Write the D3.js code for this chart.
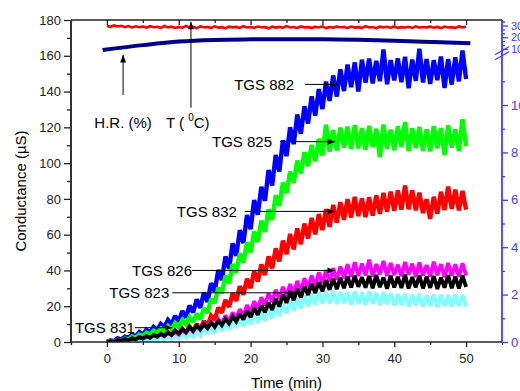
<!DOCTYPE html>
<html>
<head>
<meta charset="utf-8">
<script src="https://cdn.jsdelivr.net/npm/d3@7"></script>
<style>
body { margin: 0; background: #fff; }
svg { display: block; font-family: "Liberation Sans", Arial, sans-serif; }
</style>
</head>
<body>
<div id="main"></div>
<script>
// sampling grid of the recorded traces, minutes
const times = d3.range(0, 50.01, 0.5);

// conductance traces (uS), one reading every half minute
const tgs882 = [0, 0.9, 0.4, 2.1, 1.4, 3.0, 2.3, 4.2, 3.1, 5.6, 4.0, 6.9, 5.2, 8.4, 6.5, 10.1, 8.2, 12.3, 9.8, 14.6,
  11.4, 17.3, 13.6, 20.4, 16.5, 23.8, 19.1, 27.5, 22.4, 32.9, 28.1, 40.2, 34.6, 47.8, 41.0, 55.1, 48.2, 62.5, 55.3, 71.0,
  63.1, 79.4, 71.2, 86.8, 78.9, 96.2, 87.5, 104.6, 95.3, 112.8, 103.9, 120.1, 110.6, 127.2, 116.4, 131.8, 122.1, 137.3, 126.5, 141.4,
  130.2, 145.6, 134.8, 149.0, 137.2, 152.4, 140.3, 155.1, 142.5, 156.3, 140.0, 157.8, 145.0, 158.4, 144.6, 157.2, 145.8, 163.5, 144.1, 157.6,
  146.3, 158.5, 145.2, 159.4, 141.8, 157.9, 146.0, 164.0, 145.1, 158.2, 144.3, 157.5, 146.4, 159.6, 142.0, 158.1, 143.9, 159.2, 145.7, 163.0,
  147.0];
const tgs825 = [0, 0.6, 0.2, 1.1, 0.7, 1.9, 1.4, 3.0, 2.2, 4.1, 3.2, 5.2, 4.0, 6.4, 5.0, 7.5, 5.8, 9.0, 7.0, 10.6,
  8.4, 12.3, 9.8, 14.0, 11.2, 15.9, 12.6, 18.8, 16.3, 24.0, 21.8, 30.4, 27.3, 37.1, 32.6, 43.5, 38.8, 49.6, 44.2, 55.7,
  50.1, 61.9, 56.0, 67.8, 61.5, 74.2, 68.3, 82.0, 76.1, 89.1, 83.2, 95.3, 89.0, 101.4, 94.2, 106.1, 98.3, 110.2, 101.0, 113.6,
  104.2, 121.5, 106.4, 118.5, 107.1, 119.9, 108.6, 120.4, 107.9, 121.3, 108.2, 119.5, 107.4, 120.8, 108.9, 119.2, 103.5, 121.6, 108.0, 118.7,
  107.3, 120.5, 109.1, 123.0, 106.9, 119.4, 108.4, 120.2, 107.0, 118.9, 106.5, 120.7, 108.3, 119.6, 104.6, 121.2, 108.7, 119.0, 106.8, 124.5,
  109.5];
const tgs832 = [0, 0.5, 0.1, 0.9, 0.4, 1.3, 0.7, 1.8, 1.1, 2.4, 1.5, 3.0, 1.9, 3.6, 2.3, 4.3, 2.8, 5.2, 3.4, 6.3,
  4.1, 7.4, 4.9, 8.6, 5.8, 9.9, 6.9, 11.8, 8.9, 14.6, 12.3, 19.2, 16.4, 23.5, 19.6, 27.1, 23.0, 31.2, 26.4, 35.3,
  30.1, 39.6, 33.8, 43.4, 37.5, 47.8, 41.2, 52.3, 45.0, 56.7, 49.1, 60.4, 51.8, 63.5, 54.7, 66.2, 57.9, 69.4, 60.2, 71.5,
  62.6, 74.3, 64.4, 76.6, 66.8, 78.2, 68.3, 79.8, 69.6, 81.1, 70.4, 80.3, 69.8, 80.9, 70.7, 82.0, 71.6, 83.4, 72.9, 84.1,
  73.5, 84.8, 73.9, 87.5, 74.2, 84.7, 73.6, 83.5, 72.1, 79.8, 68.9, 81.2, 71.7, 84.0, 73.8, 86.9, 74.4, 85.2, 73.6, 84.4,
  74.0];
const tgs826 = [0, 0.4, 0.3, 1.0, 0.6, 1.5, 1.0, 2.0, 1.5, 2.6, 2.0, 3.2, 2.4, 3.8, 2.9, 4.4, 3.3, 5.0, 3.8, 5.7,
  4.2, 6.8, 5.1, 7.9, 5.9, 9.0, 6.8, 10.1, 7.7, 11.3, 8.6, 12.9, 10.2, 14.8, 11.6, 16.5, 12.9, 18.4, 14.8, 20.6,
  16.7, 22.8, 18.6, 25.0, 20.4, 27.1, 22.3, 29.2, 24.1, 30.8, 25.6, 32.4, 27.0, 34.1, 28.4, 35.7, 29.9, 37.2, 31.2, 38.9,
  32.6, 40.1, 33.7, 41.3, 34.8, 42.2, 35.6, 43.5, 36.4, 44.6, 36.9, 43.9, 37.2, 46.0, 36.5, 43.6, 37.8, 45.3, 36.9, 44.1,
  37.4, 43.2, 36.8, 44.7, 37.6, 43.8, 36.3, 44.4, 37.1, 43.0, 36.6, 44.9, 37.3, 43.5, 36.2, 44.2, 37.0, 43.4, 36.5, 44.0,
  37.2];
const tgs823 = [0, 0.5, 0.2, 1.1, 0.6, 1.6, 1.0, 2.1, 1.5, 2.7, 1.9, 3.2, 2.3, 3.9, 2.9, 4.6, 3.4, 5.4, 4.0, 6.3,
  4.7, 7.2, 5.5, 8.3, 6.3, 9.1, 7.1, 9.9, 7.8, 10.7, 8.5, 11.8, 9.4, 12.9, 10.3, 14.2, 11.4, 15.7, 12.6, 17.3,
  13.8, 18.9, 15.2, 20.5, 16.6, 22.1, 18.0, 24.2, 19.8, 26.4, 21.9, 28.0, 23.4, 29.6, 24.9, 31.0, 26.3, 32.5, 27.4, 33.4,
  28.3, 34.5, 29.2, 35.3, 29.6, 35.9, 30.1, 36.6, 30.5, 37.0, 30.9, 36.2, 30.4, 36.8, 30.1, 37.4, 30.7, 36.1, 29.8, 37.0,
  30.5, 36.4, 30.2, 37.6, 29.9, 36.3, 30.6, 37.2, 30.0, 36.5, 30.3, 36.9, 29.7, 36.0, 30.4, 37.3, 30.1, 36.6, 29.9, 37.1,
  30.8];
const tgs831 = [0, 0.3, 0.1, 0.6, 0.2, 0.8, 0.3, 1.0, 0.4, 1.3, 0.5, 1.7, 0.7, 2.1, 0.9, 2.6, 1.2, 3.2, 1.6, 3.9,
  2.0, 4.6, 2.4, 5.3, 2.9, 6.4, 3.7, 7.6, 4.5, 8.7, 5.3, 9.8, 6.1, 10.9, 7.0, 12.0, 7.9, 13.1, 8.8, 14.2,
  9.7, 15.3, 10.6, 16.7, 11.9, 18.4, 13.2, 20.1, 14.6, 21.8, 16.0, 23.4, 17.4, 25.0, 18.8, 26.2, 19.9, 27.3, 20.8, 28.0,
  21.4, 28.4, 21.7, 28.6, 21.2, 28.1, 21.5, 27.8, 20.9, 28.3, 21.3, 27.6, 20.8, 28.2, 21.4, 27.5, 20.6, 27.9, 21.1, 27.2,
  20.4, 26.8, 20.7, 27.0, 19.9, 26.5, 20.3, 26.9, 19.8, 26.2, 20.1, 26.7, 19.6, 26.4, 20.0, 26.1, 19.7, 26.6, 20.2, 26.3,
  19.9];

// temperature trace (right axis, upper segment)
const tempValues = [29.6, 28.9, 30.1, 29.2, 29.8, 28.7, 29.5, 28.4, 29.3, 28.6, 29.1, 28.2, 29.4, 28.5, 28.9, 28.0, 29.6, 28.3, 29.0, 27.9,
  28.8, 28.1, 29.7, 28.4, 28.9, 27.8, 29.2, 28.5, 28.7, 28.0, 29.3, 28.2, 28.6, 27.7, 29.0, 28.4, 28.8, 27.9, 29.4, 28.3,
  28.7, 28.0, 29.1, 28.5, 28.6, 27.6, 29.0, 28.2, 28.8, 28.1, 29.5, 28.3, 28.7, 27.9, 29.2, 28.4, 28.6, 28.0, 28.9, 28.3,
  29.3, 27.8, 28.7, 28.2, 29.0, 28.5, 28.8, 27.9, 29.1, 28.2, 28.6, 28.0, 29.4, 28.3, 28.7, 27.8, 29.0, 28.4, 28.9, 28.1,
  29.2, 28.0, 28.6, 28.3, 28.9, 27.9, 29.3, 28.2, 28.7, 28.4, 29.0, 28.1, 28.8, 27.8, 29.1, 28.3, 28.6, 28.0, 29.2, 28.4,
  28.9];
// relative humidity (right axis, upper segment)
const hrTimes = [-0.6, 5, 10, 15, 20, 25, 30, 35, 40, 45, 50.6];
const hrValues = [9.2, 13.3, 16.3, 17.7, 18.2, 18.4, 18.3, 17.8, 17.0, 16.0, 14.8];

// tick values
const xMajor = [0, 10, 20, 30, 40, 50];
const xMinor = [-5, 5, 15, 25, 35, 45, 55];
const yMajor = [0, 20, 40, 60, 80, 100, 120, 140, 160, 180];
const yMinor = [10, 30, 50, 70, 90, 110, 130, 150, 170];
const rMajor = [0, 2, 4, 6, 8, 10];
const rMinor = [1, 3, 5, 7, 9, 11];
const ruMajor = [10, 20, 30];
const ruMinor = [13.33, 16.67, 23.33, 26.67, 33.33];

// labels with arrows: text, level (uS), arrow from / to (min)
const annoText = ['TGS 882', 'TGS 825', 'TGS 832', 'TGS 826', 'TGS 823', 'TGS 831'];
const annoLevel = [144, 112, 73, 40, 27.5, 8];
const annoFrom = [27.6, 24.1, 19.2, 11.85, 9.1, 3.9];
const annoTo = [32.2, 31.75, 31.75, 31.75, 26.3, 9.1];
const annoGap = [11, 8, 8, 0, 3, 0];

const series = [
    { name: 'TGS 882', color: '#0000ff', values: tgs882, w: 4.4 },
    { name: 'TGS 825', color: '#00ff00', values: tgs825, w: 4.4 },
    { name: 'TGS 832', color: '#ff0000', values: tgs832, w: 4.4 },
    { name: 'TGS 831', color: '#80ffff', values: tgs831, w: 3.8 },
    { name: 'TGS 826', color: '#ff00ff', values: tgs826, w: 3.8 },
    { name: 'TGS 823', color: '#000000', values: tgs823, w: 3.8 }
];

const width = 520;
const height = 391;
const plotLeft = 71, plotRight = 502, plotTop = 20, plotBottom = 342;
const axisBlue = '#3f3fff';

const svg = d3.select('#main').append('svg')
    .attr('width', width)
    .attr('height', height);

const x = d3.scaleLinear().domain([-5, 55]).range([plotLeft, plotRight]);
const y = d3.scaleLinear().domain([0, 180]).range([plotBottom, plotTop]);
const yR = d3.scaleLinear().domain([0, 12]).range([plotBottom, 57.6]);
const yRU = d3.scaleLinear().domain([10, 30]).range([49, 25.5]);

const defs = svg.append('defs');
defs.append('clipPath').attr('id', 'plot')
    .append('rect')
    .attr('x', plotLeft).attr('y', plotTop)
    .attr('width', plotRight - plotLeft).attr('height', plotBottom - plotTop);

const marker = defs.append('marker')
    .attr('id', 'arrow')
    .attr('viewBox', '0 -4 10 8')
    .attr('refX', 10).attr('refY', 0)
    .attr('markerWidth', 8).attr('markerHeight', 6)
    .attr('markerUnits', 'userSpaceOnUse')
    .attr('orient', 'auto');
marker.append('path').attr('d', 'M0,-4L10,0L0,4Z').attr('fill', '#000');

const chart = svg.append('g').attr('clip-path', 'url(#plot)');

// temperature and humidity
const tLine = d3.line()
    .x((d, i) => x(times[i]))
    .y((d) => yRU(d));
chart.append('path')
    .attr('d', tLine(tempValues))
    .attr('fill', 'none')
    .attr('stroke', '#ff0000')
    .attr('stroke-width', 2.6);

const hrLine = d3.line()
    .x((d, i) => x(hrTimes[i]))
    .y((d) => yRU(d))
    .curve(d3.curveMonotoneX);
chart.append('path')
    .attr('d', hrLine(hrValues))
    .attr('fill', 'none')
    .attr('stroke', '#00008b')
    .attr('stroke-width', 4);

// sensor traces
const lineGenerator = d3.line()
    .x((d, i) => x(times[i]))
    .y((d) => y(d));
chart.selectAll('path.trace')
    .data(series)
    .enter()
    .append('path')
    .attr('class', 'trace')
    .attr('fill', 'none')
    .attr('stroke', (d) => d.color)
    .attr('stroke-width', (d) => d.w)
    .attr('stroke-miterlimit', 2)
    .attr('d', (d) => lineGenerator(d.values));

// axes
const styleAxis = (g, color, size) => {
    g.select('.domain').remove();
    g.selectAll('line').attr('stroke', color).attr('stroke-width', 1.3);
    g.selectAll('text').attr('fill', color).attr('font-size', size || 13)
        .attr('font-family', '"Liberation Sans", Arial, sans-serif');
};

svg.append('g').attr('transform', `translate(0,${plotBottom})`)
    .call(d3.axisBottom(x).tickValues(xMajor).tickSize(5).tickPadding(7))
    .call((g) => styleAxis(g, '#222'));
svg.append('g').attr('transform', `translate(0,${plotBottom})`)
    .call(d3.axisBottom(x).tickValues(xMinor).tickSize(3).tickFormat(''))
    .call((g) => styleAxis(g, '#222'));

svg.append('g').attr('transform', `translate(0,${plotTop})`)
    .call(d3.axisTop(x).tickValues(xMajor).tickSize(-5).tickFormat(''))
    .call((g) => styleAxis(g, '#222'));
svg.append('g').attr('transform', `translate(0,${plotTop})`)
    .call(d3.axisTop(x).tickValues(xMinor).tickSize(-3).tickFormat(''))
    .call((g) => styleAxis(g, '#222'));

svg.append('g').attr('transform', `translate(${plotLeft},0)`)
    .call(d3.axisLeft(y).tickValues(yMajor).tickSize(7).tickPadding(3))
    .call((g) => styleAxis(g, '#222'));
svg.append('g').attr('transform', `translate(${plotLeft},0)`)
    .call(d3.axisLeft(y).tickValues(yMinor).tickSize(4).tickFormat(''))
    .call((g) => styleAxis(g, '#222'));

svg.append('g').attr('transform', `translate(${plotRight},0)`)
    .call(d3.axisRight(yR).tickValues(rMajor).tickSize(6).tickPadding(3))
    .call((g) => styleAxis(g, axisBlue));
svg.append('g').attr('transform', `translate(${plotRight},0)`)
    .call(d3.axisRight(yR).tickValues(rMinor).tickSize(3).tickFormat(''))
    .call((g) => styleAxis(g, axisBlue));
svg.append('g').attr('transform', `translate(${plotRight},0)`)
    .call(d3.axisRight(yRU).tickValues(ruMajor).tickSize(6).tickPadding(3))
    .call((g) => styleAxis(g, axisBlue, 11));
svg.append('g').attr('transform', `translate(${plotRight},0)`)
    .call(d3.axisRight(yRU).tickValues(ruMinor).tickSize(3).tickFormat(''))
    .call((g) => styleAxis(g, axisBlue));

// frame lines
svg.append('line').attr('x1', plotLeft).attr('x2', plotRight).attr('y1', plotTop).attr('y2', plotTop)
    .attr('stroke', '#222').attr('stroke-width', 1.3);
svg.append('line').attr('x1', plotLeft).attr('x2', plotRight).attr('y1', plotBottom).attr('y2', plotBottom)
    .attr('stroke', '#222').attr('stroke-width', 1.6);
svg.append('line').attr('x1', plotLeft).attr('x2', plotLeft).attr('y1', plotTop).attr('y2', plotBottom)
    .attr('stroke', '#333').attr('stroke-width', 2);
svg.append('line').attr('x1', plotRight).attr('x2', plotRight).attr('y1', plotTop).attr('y2', plotBottom)
    .attr('stroke', axisBlue).attr('stroke-width', 1.8);

// axis break on the right
const breakY = (yR(12) + yRU(10)) / 2;
[-2.5, 2.5].forEach((off) => {
    svg.append('line')
        .attr('x1', plotRight - 7).attr('y1', breakY + off + 4)
        .attr('x2', plotRight + 7).attr('y2', breakY + off - 4)
        .attr('stroke', axisBlue).attr('stroke-width', 1.3);
});

// axis titles
svg.append('text')
    .attr('x', (plotLeft + plotRight) / 2).attr('y', 388)
    .attr('text-anchor', 'middle')
    .attr('font-size', 15)
    .text('Time (min)');
svg.append('text')
    .attr('transform', 'translate(26,191) rotate(-90)')
    .attr('text-anchor', 'middle')
    .attr('font-size', 15)
    .text('Conductance (\u00b5S)');

// sensor labels with arrows
const annos = svg.append('g');
annoText.forEach((label, i) => {
    const yy = y(annoLevel[i]);
    annos.append('line')
        .attr('x1', x(annoFrom[i])).attr('y1', yy)
        .attr('x2', x(annoTo[i])).attr('y2', yy)
        .attr('stroke', '#000').attr('stroke-width', 1)
        .attr('marker-end', 'url(#arrow)');
    annos.append('text')
        .attr('x', x(annoFrom[i]) - annoGap[i])
        .attr('y', yy + 5.5)
        .attr('text-anchor', 'end')
        .attr('font-size', 15)
        .text(label);
});

// H.R. and T labels
annos.append('line')
    .attr('x1', x(2.25)).attr('y1', y(138))
    .attr('x2', x(2.25)).attr('y2', y(160.5))
    .attr('stroke', '#000').attr('stroke-width', 1)
    .attr('marker-end', 'url(#arrow)');
annos.append('text')
    .attr('x', x(2.25)).attr('y', 127.5)
    .attr('text-anchor', 'middle')
    .attr('font-size', 15)
    .text('H.R. (%)');

annos.append('line')
    .attr('x1', x(11.7)).attr('y1', y(131))
    .attr('x2', x(11.7)).attr('y2', y(179))
    .attr('stroke', '#000').attr('stroke-width', 1)
    .attr('marker-end', 'url(#arrow)');
const tLabel = annos.append('text')
    .attr('x', x(11.7) - 25).attr('y', 127.5)
    .attr('font-size', 15);
tLabel.append('tspan').text('T ( ');
tLabel.append('tspan').attr('font-size', 10).attr('dy', -7).text('0');
tLabel.append('tspan').attr('dy', 7).text('C)');
</script>
</body>
</html>
